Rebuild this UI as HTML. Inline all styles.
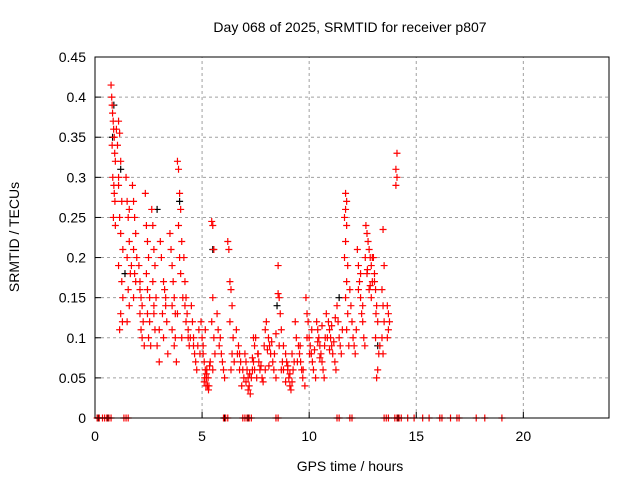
<!DOCTYPE html>
<html><head><meta charset="utf-8"><style>
body{margin:0;background:#fff;font-family:"Liberation Sans",sans-serif}
svg text{font-family:"Liberation Sans",sans-serif;font-size:14px;fill:#000}
</style></head><body>
<svg id="chart" width="640" height="480">
<text x="350" y="32" text-anchor="middle">Day 068 of 2025, SRMTID for receiver p807</text>
<text x="350" y="471" text-anchor="middle">GPS time / hours</text>
<text transform="translate(19,237) rotate(-90)" text-anchor="middle">SRMTID / TECUs</text>
<g id="grid"></g><g id="marks"></g><g id="axes"></g>
</svg>
<script>
const xTicks=[0,5,10,15,20];
const yTicks=[0,0.05,0.1,0.15,0.2,0.25,0.3,0.35,0.4,0.45];
const yTickLabels=["0","0.05","0.1","0.15","0.2","0.25","0.3","0.35","0.4","0.45"];
const redTimes=[
0.75,0.78,0.8,0.82,0.85,0.87,0.9,0.8,0.92,0.95,0.83,0.88,0.9,0.93,0.86,0.95,
1.1,1.15,1.05,1.2,1.1,1.25,1.15,1.2,1.3,1.1,1.25,1.3,1.2,1.15,1.28,
1.45,1.5,1.55,1.6,1.5,1.65,1.55,1.6,1.5,
1.75,1.8,1.85,1.9,1.8,1.95,1.85,1.9,1.8,
2.05,2.1,2.15,2.2,2.1,2.25,2.2,2.3,2.15,
2.35,2.4,2.45,2.5,2.4,2.55,2.45,2.5,2.6,2.55,
2.65,2.7,2.75,2.8,2.7,2.85,2.75,2.8,2.9,3.0,
3.05,3.1,3.2,3.25,3.3,3.35,3.2,3.4,3.15,
3.5,3.55,3.6,3.65,3.7,3.75,3.6,3.7,3.8,
3.85,3.9,3.95,4.0,3.9,4.05,3.95,4.0,4.1,3.85,4.05,
4.15,4.2,4.25,4.3,4.35,4.4,4.25,4.35,
4.5,4.55,4.6,4.65,4.7,4.75,4.8,4.85,
5.0,5.05,5.1,5.15,5.2,5.25,5.3,5.1,5.2,5.35,
5.45,5.5,5.55,5.5,5.45,5.55,5.6,5.5,
5.7,5.75,5.8,5.9,5.95,6.0,6.05,5.85,
6.2,6.25,6.3,6.35,6.4,6.3,6.45,6.4,6.5,6.35,
6.6,6.7,6.75,6.8,6.9,6.95,
7.0,7.05,7.1,7.15,7.2,7.25,7.3,7.35,7.4,7.45,
7.5,7.6,7.65,7.7,7.8,7.85,7.95,
8.0,8.1,8.15,8.2,8.3,8.35,8.45,
8.55,8.55,8.6,8.65,8.7,8.6,8.75,8.7,
8.8,8.9,8.95,9.0,9.05,9.1,9.15,9.2,9.25,9.3,
9.35,9.4,9.5,9.55,9.6,9.65,9.7,9.8,
9.85,9.9,9.95,10.0,10.05,10.1,10.15,10.2,10.3,
10.35,10.4,10.45,10.5,10.55,10.6,10.65,10.7,10.75,
10.8,10.9,10.95,11.0,11.05,11.1,11.2,11.25,
11.3,11.35,11.4,11.45,11.5,11.55,
11.7,11.75,11.7,11.65,11.75,11.7,11.65,11.8,11.75,11.7,11.8,11.75,11.85,
11.9,11.95,12.0,12.05,12.1,12.15,12.2,
12.25,12.3,12.35,12.4,12.45,12.5,12.55,12.6,
12.65,12.7,12.75,12.8,12.85,12.9,12.7,12.95,12.8,12.9,
13.0,13.05,13.1,13.15,13.2,13.1,13.25,13.2,13.15,
13.45,13.5,13.4,13.45,13.5,13.4,13.45,
13.65,13.7,13.75,13.7,13.65,
14.1,14.05,14.1,14.05,
5.05,5.12,5.18,5.22,5.28,5.32,5.38,5.15,4.95,4.9,
6.65,6.75,6.85,7.05,7.15,7.22,7.35,7.45,7.55,7.62,7.75,7.9,7.95,7.4,
8.05,8.12,8.25,8.38,8.45,8.8,8.9,9.0,9.1,9.2,
9.45,9.58,9.72,9.9,10.02,10.12,10.25,10.4,10.5,10.6,10.72,10.85,10.95,11.05,11.15,11.22,
12.3,12.4,12.5,12.62,12.72,12.85,12.95,13.05,13.12,13.3,
1.0,1.1,1.6,1.7,2.1,2.45,2.75,3.0,3.3,3.6,3.75,4.2,4.45,4.6
];
const redValues=[
0.415,0.40,0.39,0.38,0.37,0.36,0.35,0.34,0.33,0.32,0.30,0.29,0.28,0.27,0.25,0.24,
0.37,0.355,0.34,0.32,0.30,0.27,0.25,0.23,0.21,0.19,0.17,0.15,0.13,0.11,0.12,
0.30,0.27,0.25,0.22,0.20,0.18,0.16,0.14,0.12,
0.29,0.27,0.25,0.23,0.21,0.20,0.18,0.17,0.15,
0.19,0.17,0.15,0.14,0.13,0.12,0.10,0.09,0.11,
0.28,0.24,0.22,0.20,0.18,0.15,0.13,0.10,0.09,0.12,
0.26,0.24,0.21,0.19,0.17,0.15,0.13,0.11,0.09,0.07,
0.22,0.20,0.17,0.16,0.14,0.12,0.10,0.08,0.13,
0.23,0.21,0.19,0.17,0.15,0.13,0.11,0.09,0.07,
0.32,0.31,0.28,0.26,0.24,0.22,0.20,0.18,0.15,0.13,0.10,
0.20,0.17,0.15,0.13,0.11,0.09,0.12,0.10,
0.14,0.12,0.10,0.08,0.07,0.06,0.09,0.11,
0.10,0.08,0.07,0.06,0.05,0.04,0.035,0.045,0.055,0.065,
0.245,0.24,0.21,0.15,0.12,0.10,0.08,0.06,
0.13,0.11,0.09,0.08,0.07,0.06,0.05,0.10,
0.22,0.21,0.17,0.16,0.14,0.12,0.10,0.08,0.07,0.06,
0.11,0.09,0.08,0.07,0.06,0.05,
0.08,0.07,0.06,0.05,0.04,0.03,0.05,0.06,0.07,0.09,
0.10,0.08,0.07,0.06,0.05,0.045,0.06,
0.12,0.10,0.09,0.08,0.07,0.06,0.05,
0.19,0.155,0.15,0.13,0.11,0.09,0.07,0.06,
0.09,0.08,0.07,0.06,0.05,0.04,0.035,0.045,0.06,0.07,
0.12,0.10,0.09,0.08,0.07,0.06,0.05,0.04,
0.15,0.13,0.12,0.10,0.09,0.08,0.07,0.06,0.05,
0.12,0.11,0.10,0.09,0.08,0.07,0.06,0.05,0.10,
0.13,0.12,0.11,0.10,0.09,0.08,0.07,0.06,
0.14,0.12,0.10,0.09,0.08,0.11,
0.28,0.27,0.26,0.25,0.24,0.22,0.20,0.19,0.17,0.15,0.13,0.11,0.09,
0.16,0.14,0.12,0.10,0.09,0.08,0.11,
0.21,0.19,0.17,0.15,0.13,0.12,0.10,0.09,
0.24,0.23,0.22,0.21,0.20,0.19,0.18,0.17,0.16,0.15,
0.20,0.18,0.16,0.14,0.12,0.10,0.08,0.06,0.05,
0.235,0.19,0.16,0.14,0.12,0.10,0.08,
0.14,0.13,0.12,0.11,0.10,
0.33,0.31,0.30,0.29,
0.09,0.05,0.04,0.06,0.05,0.04,0.07,0.11,0.12,0.08,
0.08,0.06,0.04,0.045,0.035,0.055,0.075,0.06,0.05,0.08,0.065,0.09,0.11,0.10,
0.085,0.065,0.095,0.08,0.105,0.06,0.045,0.065,0.055,0.08,
0.07,0.09,0.06,0.10,0.08,0.11,0.085,0.095,0.075,0.115,0.09,0.10,0.085,0.115,0.095,0.125,
0.16,0.18,0.14,0.20,0.185,0.165,0.20,0.17,0.13,0.09,
0.36,0.29,0.26,0.19,0.16,0.16,0.14,0.11,0.15,0.14,0.10,0.14,0.10,0.09
];
const blackTimes=[0.88,1.2,1.4,2.9,5.5,8.5,11.4,13.2,0.82,3.95];
const blackValues=[0.39,0.31,0.18,0.26,0.21,0.14,0.15,0.09,0.35,0.27];
const zeroRedTimes=[0.1,0.2,0.35,0.45,0.55,0.65,0.75,1.35,1.45,1.55,6.0,6.1,6.2,6.9,7.0,7.1,7.2,7.3,8.45,8.55,11.3,11.4,11.9,12.0,13.5,13.6,13.7,14.0,14.1,14.2,14.3,14.6,14.9,15.3,15.6,16.1,16.2,16.6,16.9,17.0,17.8,18.2,19.0];
const zeroBlackTimes=[0.15,0.6,6.05,7.15,14.15];

const X0=95,X1=609,Y0=418,Y1=57;
const xs=t=>X0+(X1-X0)*t/24;
const ys=v=>Y0-(Y0-Y1)*v/0.45;
const NS="http://www.w3.org/2000/svg";
function mk(tag,attrs,parent){const e=document.createElementNS(NS,tag);for(const k in attrs)e.setAttribute(k,attrs[k]);parent.appendChild(e);return e;}
const grid=document.getElementById('grid'),marks=document.getElementById('marks'),axes=document.getElementById('axes');
xTicks.forEach(t=>{
 if(t>0){const g=mk('line',{x1:xs(t),x2:xs(t),y1:Y0,y2:Y1,stroke:'#a0a0a0','stroke-dasharray':'3,3'},grid);
 
 }
 const tk=mk('line',{x1:xs(t),x2:xs(t),y1:Y0,y2:Y0-6,stroke:'#000'},axes);
 
 
 const tx=mk('text',{x:xs(t),y:Y0+23,'text-anchor':'middle'},axes);tx.textContent=t;
 
 
});
yTicks.forEach((v,i)=>{
 if(v>0&&v<0.45){const g=mk('line',{x1:X0,x2:X1,y1:ys(v),y2:ys(v),stroke:'#a0a0a0','stroke-dasharray':'3,3'},grid);
 
 }
 const tk=mk('line',{x1:X0,x2:X0+6,y1:ys(v),y2:ys(v),stroke:'#000'},axes);
 
 
 const tx=mk('text',{x:X0-9,y:ys(v)+5,'text-anchor':'end'},axes);tx.textContent=yTickLabels[i];
 
 
});
const frame=mk('rect',{x:X0,y:Y1,width:X1-X0,height:Y0-Y1,fill:'none',stroke:'#000'},axes);


function plus(t,v,c,name){
 const x=xs(t),y=ys(v);
 const p=mk('path',{d:`M${x-3.5} ${y}H${x+3.5}M${x} ${y-3.5}V${y+3.5}`,stroke:c,'stroke-width':1.2,fill:'none'},marks);
 
 
}
blackTimes.forEach((t,i)=>plus(t,blackValues[i],'#000','black-point'));
zeroBlackTimes.forEach(t=>plus(t,0,'#000','black-zero-point'));
redTimes.forEach((t,i)=>plus(t,redValues[i],'#f00','red-point'));
zeroRedTimes.forEach(t=>plus(t,0,'#f00','red-zero-point'));
</script>
</body></html>
